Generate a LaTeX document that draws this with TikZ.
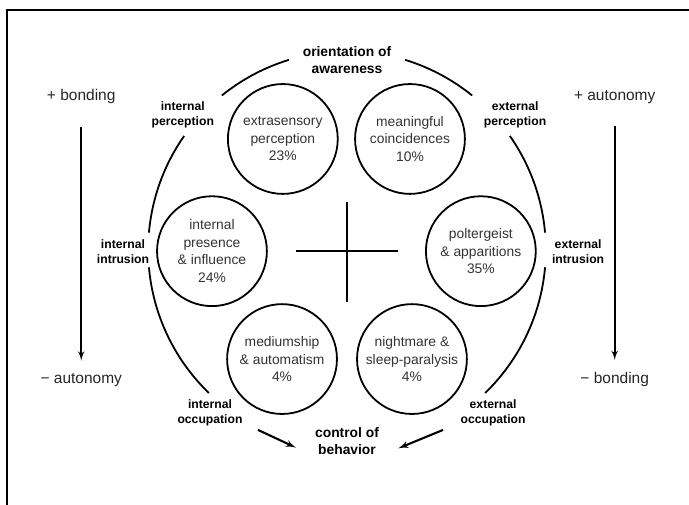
\documentclass[tikz,border=0pt]{standalone}
\usepackage{fontspec}
\setmainfont{Liberation Sans}
\usetikzlibrary{arrows}

\begin{document}
\begin{tikzpicture}[
    bubble/.style={circle, draw, line width=1.3pt, minimum size=2.79cm, inner sep=0pt, align=center,
      text=black!80, font=\fontsize{10}{12.6}\selectfont},
    axislabel/.style={align=center, font=\bfseries\fontsize{8.8}{10.8}\selectfont},
    headlabel/.style={align=center, font=\bfseries\fontsize{10}{12}\selectfont},
    polelabel/.style={text=black!85, font=\fontsize{11.2}{13}\selectfont},
    >=latex']
            \useasboundingbox (-8.814,-6.477) rectangle (8.687,6.35);
            \draw[line width=1.2pt] (8.687,6.096) -- (-8.636,6.096) -- (-8.636,-6.477);
            % the six phenomena
            \node[bubble] (esp) at (-1.63,2.82) {extrasensory\\perception\\23\%};
            \node[bubble] (coinc) at (1.60,2.82) {meaningful\\coincidences\\10\%};
            \node[bubble] (presence) at (-3.43,-0.03) {internal\\presence\\\& influence\\24\%};
            \node[bubble] (polter) at (3.40,-0.03) {poltergeist\\\& apparitions\\35\%};
            \node[bubble] (medium) at (-1.65,-2.77) {mediumship\\\& automatism\\4\%};
            \node[bubble] (nightmare) at (1.65,-2.77) {nightmare \&\\sleep-paralysis\\4\%};
            \draw[line width=1.3pt] (-1.3,-0.03) -- (1.3,-0.03);
            \draw[line width=1.3pt] (0,1.22) -- (0,-1.32);
            % outer ring
            \foreach \a/\b in {107/129, 51/73, 145/175, 5/35, 185/226, -46/-5} {
                \draw[line width=1.3pt] (\a:5.05) arc (\a:\b:5.05);
            }
            \node[headlabel] (orient) at (0,4.83) {orientation of\\awareness};
            \node[axislabel] (intperc) at (-4.17,3.43) {internal\\perception};
            \node[axislabel] (extperc) at (4.27,3.43) {external\\perception};
            \node[axislabel] (intintr) at (-5.69,-0.03) {internal\\intrusion};
            \node[axislabel] (extintr) at (5.87,-0.03) {external\\intrusion};
            \node[axislabel] (intocc) at (-3.48,-4.14) {internal\\occupation};
            \node[axislabel] (extocc) at (3.71,-4.14) {external\\occupation};
            \node[headlabel] (ctrl) at (0,-4.85) {control of\\behavior};
            \coordinate (la) at (-2.26,-4.57);
            \coordinate (ra) at (2.44,-4.57);
            \draw[->, line width=1.5pt, shorten >=0.4cm] (la) -- (ctrl.200);
            \draw[->, line width=1.5pt, shorten >=0.4cm] (ra) -- (ctrl.340);
            % side poles
            \node[polelabel] (bondtop) at (-6.75,3.89) {+ bonding};
            \node[polelabel] (autobot) at (-6.75,-3.30) {− autonomy};
            \node[polelabel] (autotop) at (6.80,3.89) {+ autonomy};
            \node[polelabel] (bondbot) at (6.80,-3.30) {− bonding};
            \path[->, line width=1.3pt, shorten <=0.46cm, shorten >=0.2cm] (bondtop) edge (autobot);
            \path[->, line width=1.3pt, shorten <=0.46cm, shorten >=0.2cm] (autotop) edge (bondbot);
        \end{tikzpicture}
\end{document}
